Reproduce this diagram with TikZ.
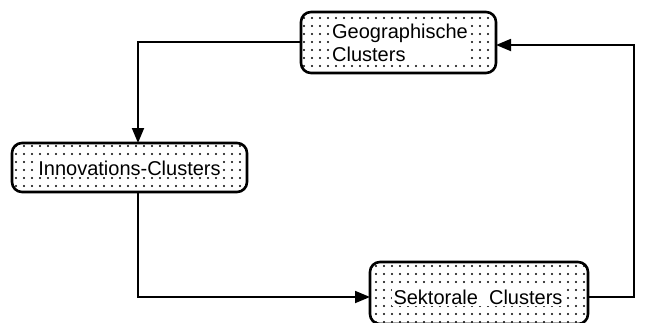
\documentclass[tikz,border=0pt]{standalone}
\usepackage{fontspec}
\setmainfont{Liberation Sans}
\usetikzlibrary{patterns.meta,arrows.meta}
\begin{document}
\begin{tikzpicture}[x=1pt,y=-1pt,
  box/.style={draw,line width=2.6pt,rounded corners=10pt,pattern={Dots[distance=8pt,radius=1.1pt]}},
  lbl/.style={fill=white,inner sep=1.5pt,font=\fontsize{20}{23}\selectfont,align=left},
  conn/.style={line width=1.8pt,-{Triangle[length=15pt,width=12pt]}}]
\useasboundingbox (0,0) rectangle (650,322);
\draw[box] (301,12) rectangle (496,73);
\node[lbl] (geo) at (400,42.5) {Geographische\\Clusters};
\coordinate (geoL) at (301,42);
\coordinate (geoR) at (496,45);
\draw[box] (12,143) rectangle (247,192);
\node[lbl] (inn) at (129.5,168) {Innovations-Clusters};
\coordinate (innT) at (138,143);
\coordinate (innB) at (138,192);
\draw[box] (370,262) rectangle (588,324);
\node[lbl] (sek) at (478,297) {Sektorale\ \ Clusters};
\coordinate (sekL) at (370,297);
\coordinate (sekR) at (588,297);
\draw[conn] (geoL) -| (innT);
\draw[conn] (innB) |- (sekL);
\draw[conn] (sekR) -- (634,297) -- (634,45) -- (geoR);
\end{tikzpicture}
\end{document}
